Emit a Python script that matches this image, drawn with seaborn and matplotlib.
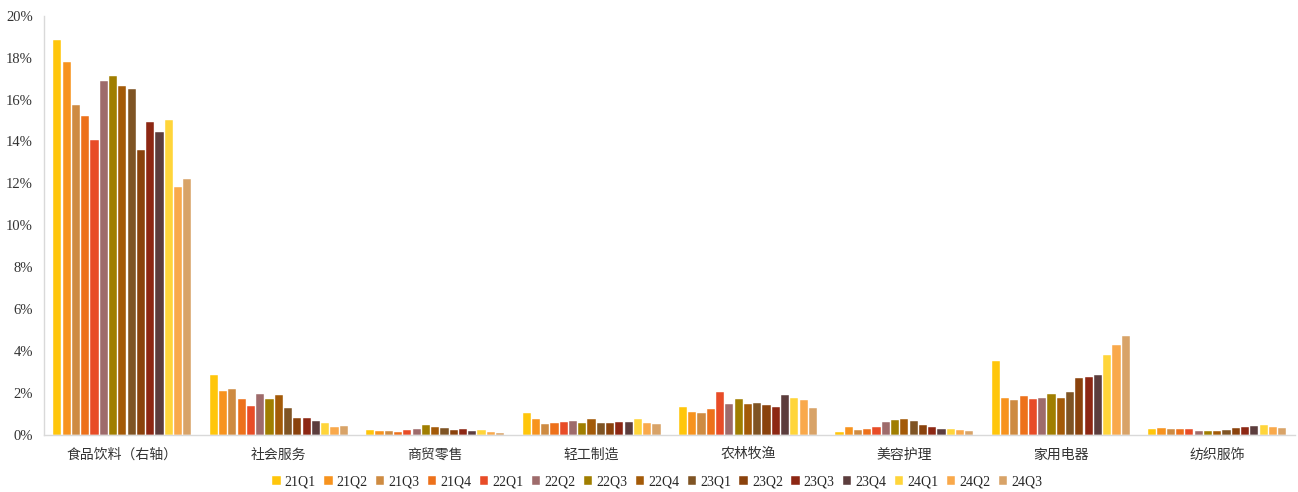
import pandas as pd
import matplotlib
matplotlib.use("Agg")
import matplotlib.pyplot as plt
import seaborn as sns
from matplotlib.ticker import PercentFormatter

# 行业
categories = ["食品饮料（右轴）", "社会服务", "商贸零售", "轻工制造",
              "农林牧渔", "美容护理", "家用电器", "纺织服饰"]
quarters = ["21Q1", "21Q2", "21Q3", "21Q4", "22Q1", "22Q2", "22Q3", "22Q4",
            "23Q1", "23Q2", "23Q3", "23Q4", "24Q1", "24Q2", "24Q3"]

# 每个行业 21Q1..24Q3 的占比 (%)
food_bev = [18.85, 17.80, 15.74, 15.23, 14.08, 16.88, 17.12, 16.64,
            16.52, 13.59, 14.94, 14.46, 15.04, 11.82, 12.23]
social_svc = [2.86, 2.10, 2.20, 1.70, 1.38, 1.96, 1.70, 1.92,
              1.27, 0.80, 0.80, 0.67, 0.57, 0.40, 0.43]
retail = [0.24, 0.19, 0.19, 0.16, 0.24, 0.29, 0.45, 0.38,
          0.35, 0.24, 0.30, 0.19, 0.22, 0.16, 0.10]
light_mfg = [1.03, 0.76, 0.54, 0.59, 0.62, 0.68, 0.57, 0.78,
             0.59, 0.57, 0.62, 0.62, 0.76, 0.59, 0.52]
agri = [1.34, 1.10, 1.05, 1.24, 2.05, 1.46, 1.72, 1.48,
        1.53, 1.43, 1.35, 1.91, 1.75, 1.67, 1.29]
beauty = [0.13, 0.37, 0.24, 0.27, 0.37, 0.60, 0.70, 0.76,
          0.67, 0.48, 0.38, 0.27, 0.30, 0.24, 0.21]
appliance = [3.55, 1.75, 1.65, 1.86, 1.72, 1.77, 1.97, 1.75,
             2.07, 2.72, 2.77, 2.86, 3.83, 4.30, 4.74]
textile = [0.29, 0.32, 0.30, 0.27, 0.27, 0.21, 0.19, 0.21,
           0.25, 0.35, 0.38, 0.43, 0.48, 0.38, 0.33]

colors = ["#FFC60B", "#F7931E", "#CE8B42", "#ED711B", "#E84C27", "#9E6B6B",
          "#A07E00", "#A35A08", "#7F5424", "#8A420C", "#8D2713", "#5C3D3D",
          "#FFD53A", "#F9A94B", "#D8A368"]

series = [food_bev, social_svc, retail, light_mfg, agri, beauty, appliance, textile]
rows = []
for cat, vals in zip(categories, series):
    for q, v in zip(quarters, vals):
        rows.append({"industry": cat, "quarter": q, "value": v})
df = pd.DataFrame(rows)

sns.set_style("white")
plt.rcParams["font.family"] = ["Liberation Serif", "Noto Sans CJK SC", "DejaVu Sans"]

fig = plt.figure(figsize=(12.98, 4.92), dpi=100)
ax = fig.add_axes([0.034, 0.116, 0.964, 0.852])

sns.barplot(data=df, x="industry", y="value", hue="quarter", order=categories,
            hue_order=quarters, palette=colors, saturation=1, width=0.89, gap=0.12,
            edgecolor="white", linewidth=0.3, ax=ax)

ax.set_ylim(0, 20)
ax.set_xlim(-0.5, 7.5)
ax.set_yticks(range(0, 21, 2))
ax.yaxis.set_major_formatter(PercentFormatter(decimals=0))
ax.set_xlabel("")
ax.set_ylabel("")

for side in ["top", "right"]:
    ax.spines[side].set_visible(False)
for side in ["left", "bottom"]:
    ax.spines[side].set_color("#D9D9D9")
    ax.spines[side].set_linewidth(1.0)

ax.tick_params(axis="y", direction="out", length=4, color="#D9D9D9",
               labelsize=10.5, pad=4)
ax.tick_params(axis="x", length=0, pad=9)
for lbl in ax.get_xticklabels():
    lbl.set_family(["Noto Sans CJK SC", "DejaVu Sans"])
    lbl.set_fontsize(10)
    lbl.set_color("#333333")
for lbl in ax.get_yticklabels():
    lbl.set_color("#333333")

ax.legend(loc="center", bbox_to_anchor=(0.49, -0.113), ncol=15, frameon=False,
          handlelength=0.6, handleheight=0.6, handletextpad=0.3,
          columnspacing=0.6, fontsize=10)

fig.savefig("out.png", dpi=100)
